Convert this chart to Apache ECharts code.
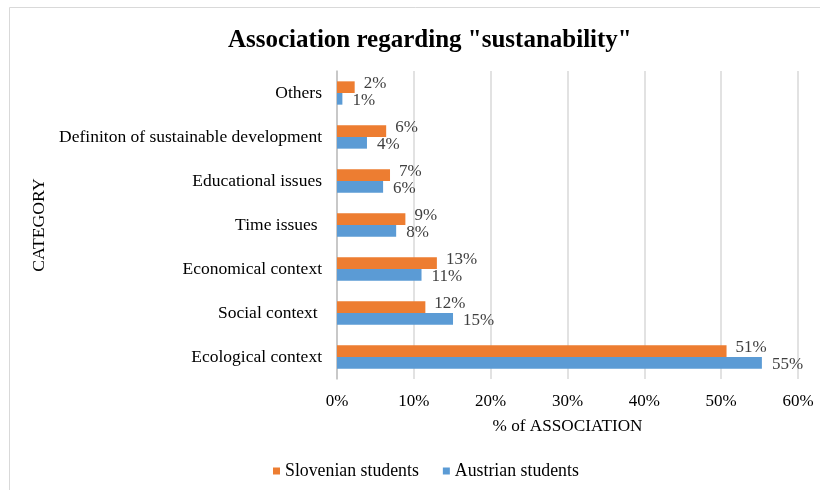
<!DOCTYPE html>
<html>
<head>
<meta charset="utf-8">
<script src="https://cdn.jsdelivr.net/npm/echarts@6/dist/echarts.min.js"></script>
<style>html,body{margin:0;padding:0;background:#fff}#c{width:820px;height:490px}</style>
</head>
<body>
<div id="c"></div>
<script>
var categories = ["Ecological context", "Social context ", "Economical context", "Time issues ", "Educational issues", "Definiton of sustainable development", "Others"];
var austrian = [55.3, 15.1, 11.0, 7.7, 6.0, 3.9, 0.7];
var slovenian = [50.7, 11.5, 13.0, 8.9, 6.9, 6.4, 2.3];
var austrianLabels = ["55%", "15%", "11%", "8%", "6%", "4%", "1%"];
var slovenianLabels = ["51%", "12%", "13%", "9%", "7%", "6%", "2%"];
var xTicks = [0, 10, 20, 30, 40, 50, 60];

var font = "'Liberation Serif', 'Times New Roman', serif";
var chart = echarts.init(document.getElementById('c'));
chart.setOption({
  animation: false,
  backgroundColor: '#fff',
  graphic: [{type: 'rect', shape: {x: 9.5, y: 7.5, width: 900, height: 600}, style: {fill: 'none', stroke: '#d9d9d9', lineWidth: 1}}],
  title: {text: 'Association regarding "sustanability"', left: 223, top: 23,
    textStyle: {fontFamily: font, fontSize: 25, fontWeight: 'bold', color: '#000'}},
  legend: {data: ['Slovenian students', 'Austrian students'], bottom: 5, left: 268, itemWidth: 7, itemHeight: 7, itemGap: 24,
    icon: 'rect', textStyle: {fontFamily: font, fontSize: 17.8, color: '#000'}},
  grid: {left: 337, right: 22, top: 71, bottom: 111},
  xAxis: {type: 'value', min: 0, max: 60, interval: 10,
    name: '% of ASSOCIATION', nameLocation: 'middle', nameGap: 39,
    nameTextStyle: {fontFamily: font, fontSize: 17.2, color: '#000'},
    axisLabel: {formatter: function(v){return v + '%';}, fontFamily: font, fontSize: 17, color: '#000', margin: 14},
    axisLine: {show: false}, axisTick: {show: false},
    splitLine: {lineStyle: {color: '#d9d9d9', width: 1.5}}},
  yAxis: {type: 'category', data: categories,
    name: 'CATEGORY', nameLocation: 'middle', nameGap: 286, nameRotate: 90,
    nameTextStyle: {fontFamily: font, fontSize: 17.7, color: '#000'},
    axisLabel: {fontFamily: font, fontSize: 17.5, color: '#000', margin: 15},
    axisLine: {lineStyle: {color: '#bfbfbf', width: 1.5}}, axisTick: {show: false}},
  series: [
    {name: 'Slovenian students', type: 'bar', data: slovenian, barGap: '0%', barCategoryGap: '47%',
      itemStyle: {color: '#ed7d31'},
      label: {show: true, position: 'right', distance: 9, offset: [0, -4],
        formatter: function(p){return slovenianLabels[p.dataIndex];},
        fontFamily: font, fontSize: 17, color: '#404040'}},
    {name: 'Austrian students', type: 'bar', data: austrian, barGap: '0%', barCategoryGap: '47%',
      itemStyle: {color: '#5b9bd5'},
      label: {show: true, position: 'right', distance: 10, offset: [0, 2],
        formatter: function(p){return austrianLabels[p.dataIndex];},
        fontFamily: font, fontSize: 17, color: '#404040'}}
  ]
});
</script>
</body>
</html>
